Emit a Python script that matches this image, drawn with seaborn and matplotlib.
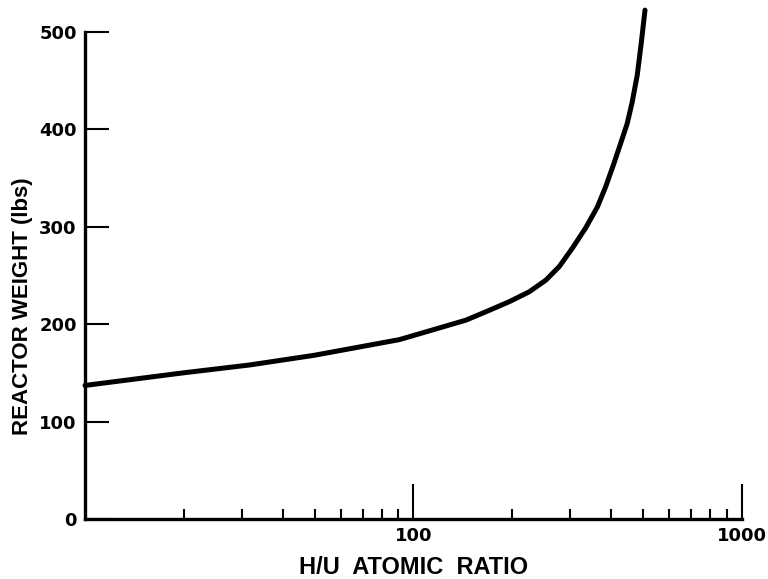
import matplotlib
matplotlib.use("Agg")
import matplotlib.pyplot as plt
import seaborn as sns
import pandas as pd
from matplotlib.ticker import FixedLocator, NullFormatter

# values
hu_ratio = [10, 20, 31.7, 50, 90.6, 114.5, 144.5, 170, 196, 225, 253, 278, 305, 335,
            363, 385, 408, 429, 447, 463, 480, 493, 507]
weight = [137, 150, 158, 168, 184, 194, 204, 214, 223, 233, 245, 259, 278, 299,
          320, 341, 365, 387, 405, 427, 455, 486, 522]

y_ticks = [0, 100, 200, 300, 400, 500]
x_major = [100, 1000]
x_minor = [20, 30, 40, 50, 60, 70, 80, 90, 200, 300, 400, 500, 600, 700, 800, 900]

df = pd.DataFrame({"hu": hu_ratio, "w": weight})

sns.set_style("white")
plt.rcParams["font.family"] = ["Liberation Sans", "DejaVu Sans"]
plt.rcParams["font.weight"] = "bold"
plt.rcParams["text.color"] = "black"

fig = plt.figure(figsize=(7.68, 5.79), dpi=100)
ax = fig.add_axes([0.1107, 0.1036, 0.8553, 0.884])

sns.lineplot(data=df, x="hu", y="w", ax=ax, color="black", linewidth=3.6,
             clip_on=False, solid_joinstyle="round", solid_capstyle="round")

ax.set_xscale("log")
ax.set_xlim(10, 1000)
ax.set_ylim(0, 525)

for s in ["top", "right"]:
    ax.spines[s].set_visible(False)
ax.spines["left"].set_bounds(0, 500)
for s in ["left", "bottom"]:
    ax.spines[s].set_linewidth(2.4)
    ax.spines[s].set_color("black")

ax.yaxis.set_major_locator(FixedLocator(y_ticks))
ax.set_yticklabels([str(v) for v in y_ticks], fontsize=13, fontweight="bold",
                   family="DejaVu Sans")
ax.tick_params(axis="y", left=True, direction="in", length=17, width=1.5, pad=6,
               colors="black")

ax.xaxis.set_major_locator(FixedLocator(x_major))
ax.xaxis.set_minor_locator(FixedLocator(x_minor))
ax.xaxis.set_minor_formatter(NullFormatter())
ax.set_xticklabels(["100", "1000"], fontsize=13, fontweight="bold", family="DejaVu Sans")
ax.tick_params(axis="x", which="major", bottom=True, direction="in", length=25, width=1.5,
               pad=6, colors="black")
ax.tick_params(axis="x", which="minor", bottom=True, direction="in", length=7, width=1.5,
               colors="black")

ax.set_xlabel("H/U  ATOMIC  RATIO", fontsize=17, fontweight="bold", labelpad=8, color="black")
ax.set_ylabel("REACTOR WEIGHT (lbs)", fontsize=16, fontweight="bold", color="black")
ax.yaxis.set_label_coords(-0.079, 0.416)

ax.grid(False)
fig.savefig("out.png", dpi=100)
